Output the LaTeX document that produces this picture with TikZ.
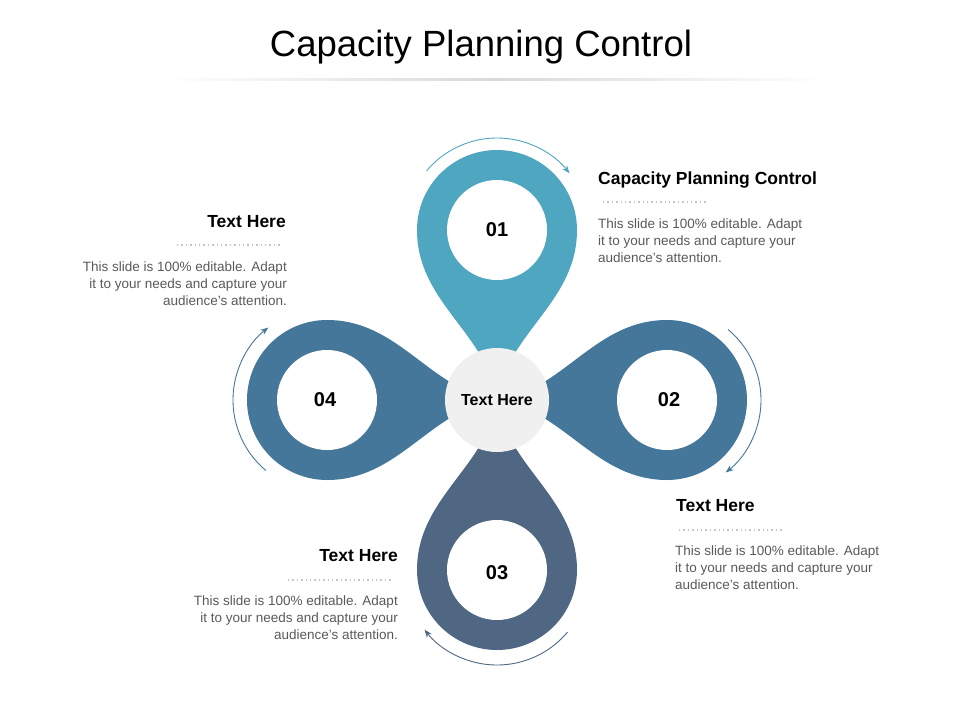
\documentclass[tikz,border=0pt]{standalone}
\usepackage{fontspec}
\setmainfont{Liberation Sans}
\usetikzlibrary{arrows.meta}
\definecolor{cA}{HTML}{4EA6C0}
\definecolor{cB}{HTML}{44779A}
\definecolor{cC}{HTML}{4F6782}
\definecolor{tx}{HTML}{595959}
\tikzset{
 num/.style={font=\fontsize{20}{24}\selectfont\bfseries, text=black},
 head/.style={font=\fontsize{17.5}{20}\selectfont\bfseries, inner sep=0},
 body/.style={font=\fontsize{13.5}{16.7}\selectfont, text=tx, inner sep=0},
 dots/.style={draw=gray!45, line width=1.4pt, dash pattern=on 1.4pt off 3pt},
 arr/.style={line width=0.9pt, -{Stealth[length=8pt,width=6pt]}}
}
\begin{document}
\begin{tikzpicture}[x=1pt,y=-1pt]
\useasboundingbox (0,0) rectangle (960,720);
\node (title) at (481,47) {\fontsize{36.5}{40}\selectfont Capacity Planning Control};
\shade[left color=white, right color=white, middle color=gray!30] (160,78) rectangle (830,80);
% petals
\foreach \ang/\col in {-90/cB, 180/cC, 90/cB, 0/cA}{
 \begin{scope}[rotate around={\ang:(497,400)}]
  \fill[\col] (497,395) .. controls (482,330) and (417,300) .. (417,230) arc[start angle=180, end angle=360, radius=80] .. controls (577,300) and (512,330) .. (497,395) -- cycle;
  \fill[white] (497,230) circle[radius=50];
 \end{scope}
}
\node[circle, fill=gray!12, minimum size=104pt, inner sep=0, font=\fontsize{16}{19}\selectfont\bfseries] (c) at (497,400) {Text Here};
\node[num] (n1) at (497,230) {01};
\node[num] (n2) at (669,400) {02};
\node[num] (n3) at (497,573) {03};
\node[num] (n4) at (325,400) {04};
% arrows
\draw[arr, color=cA] (497,230) ++(-140:92) arc[start angle=-140, end angle=-38, radius=92];
\draw[arr, color=cB] (669,400) ++(-50:92) arc[start angle=-50, end angle=52, radius=92];
\draw[arr, color=cC] (497,573) ++(40:92) arc[start angle=40, end angle=142, radius=92];
\draw[arr, color=cB] (325,400) ++(130:92) arc[start angle=130, end angle=232, radius=92];
% text blocks
\node[head, anchor=west] (h1) at (598,180) {Capacity Planning Control};
\draw[dots] (603,202) -- (708,202);
\node[body, anchor=north west, align=left] (b1) at (598,219) {This slide is 100\% editable. Adapt\\it to your needs and capture your\\audience's attention.};
\node[head, anchor=east] (h4) at (286,222) {Text Here};
\draw[dots] (177,245) -- (281,245);
\node[body, anchor=north east, align=right] (b4) at (287,262) {This slide is 100\% editable. Adapt\\it to your needs and capture your\\audience's attention.};
\node[head, anchor=west] (h2) at (676,506) {Text Here};
\draw[dots] (679,530) -- (783,530);
\node[body, anchor=north west, align=left] (b2) at (675,546) {This slide is 100\% editable. Adapt\\it to your needs and capture your\\audience's attention.};
\node[head, anchor=east] (h3) at (398,556) {Text Here};
\draw[dots] (288,580) -- (392,580);
\node[body, anchor=north east, align=right] (b3) at (398,596) {This slide is 100\% editable. Adapt\\it to your needs and capture your\\audience's attention.};
\end{tikzpicture}
\end{document}
